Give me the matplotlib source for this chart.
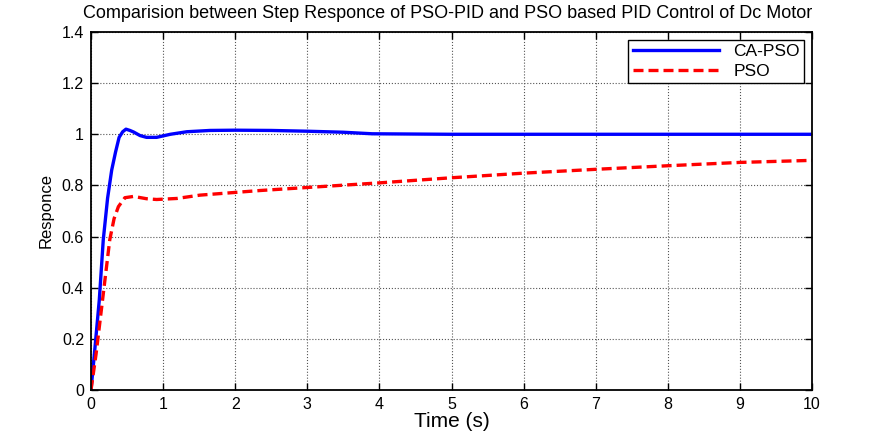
import numpy as np
import matplotlib
matplotlib.use('Agg')
import matplotlib.pyplot as plt

plt.rcParams['font.family'] = ['Liberation Sans', 'DejaVu Sans']

# CA-PSO step response
t_ca = [0, 0.05, 0.115, 0.17, 0.23, 0.287, 0.34, 0.39, 0.44, 0.485, 0.54, 0.59, 0.68, 0.77,
        0.91, 1.1, 1.33, 1.65, 2.0, 2.5, 3.0, 3.5, 3.9, 5, 6, 7, 8, 9, 10]
y_ca = [0, 0.15, 0.352, 0.587, 0.75, 0.86, 0.93, 0.988, 1.01, 1.02, 1.015, 1.009, 0.995, 0.988,
        0.988, 1.0, 1.01, 1.015, 1.016, 1.015, 1.012, 1.008, 1.002, 1.0, 1.0, 1.0, 1.0, 1.0, 1.0]

# PSO step response
t_pso = [0, 0.07, 0.16, 0.26, 0.32, 0.38, 0.47, 0.59, 0.77, 0.91, 1.19, 1.51, 1.97, 2.34,
         3, 4, 5, 6, 7, 8, 9, 10]
y_pso = [0, 0.14, 0.352, 0.587, 0.67, 0.717, 0.752, 0.757, 0.748, 0.745, 0.749, 0.762, 0.772, 0.78,
         0.792, 0.81, 0.83, 0.848, 0.863, 0.877, 0.89, 0.898]

fig = plt.figure(figsize=(8.88, 4.38), dpi=100)
ax = fig.add_axes([91/888, 1 - 390/438, (812-91)/888, (390-32)/438])

ax.plot(t_ca, y_ca, color='#0000ff', lw=2.4, label='CA-PSO')
ax.plot(t_pso, y_pso, color='#ff0000', lw=2.4, ls=(0, (3, 1.5)), label='PSO')

ax.set_xlim(0, 10)
ax.set_ylim(0, 1.4)
ax.set_xticks(range(0, 11))
ax.set_yticks([0, 0.2, 0.4, 0.6, 0.8, 1, 1.2, 1.4])
ax.set_yticklabels(['0', '0.2', '0.4', '0.6', '0.8', '1', '1.2', '1.4'])
ax.grid(True, color='#555555', ls=':', lw=0.8)
ax.tick_params(direction='in', labelsize=11.5, length=5, top=True, right=True, width=1, pad=5)
for s in ax.spines.values():
    s.set_linewidth(1.3)

ax.set_title('Comparision between Step Responce of PSO-PID and PSO based PID Control of Dc Motor',
             fontsize=13, pad=10, x=0.495)
ax.set_xlabel('Time (s)', fontsize=15, labelpad=0)
ax.set_ylabel('Responce', fontsize=12, labelpad=6)

leg = ax.legend(loc='upper right', fontsize=12.5, fancybox=False, framealpha=1,
                edgecolor='black', handlelength=5.0, borderaxespad=0.45,
                labelspacing=0.25, borderpad=0.25, handletextpad=0.8)
leg.get_frame().set_linewidth(1)

fig.savefig('out.png', dpi=100)
